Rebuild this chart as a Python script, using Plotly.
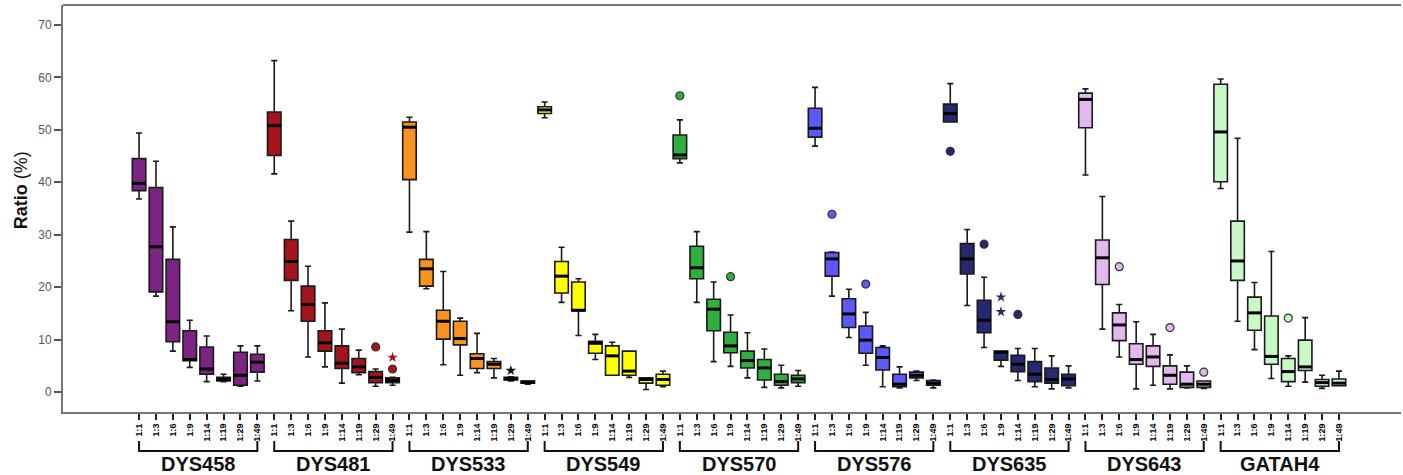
import plotly.graph_objects as go

markers = ["DYS458", "DYS481", "DYS533", "DYS549", "DYS570", "DYS576", "DYS635", "DYS643", "GATAH4"]
dilutions = ["1:1", "1:3", "1:6", "1:9", "1:14", "1:19", "1:29", "1:49"]
colors = ["#7B2484", "#A5141B", "#F7931E", "#FFFF00", "#2DB040", "#5A5AF8", "#252A70", "#E3B8EE", "#C8F8C8"]

lower = [
    [36.8, 18.3, 7.8, 4.7, 2.0, 2.0, 1.1, 2.1],
    [41.6, 15.5, 6.7, 4.8, 1.7, 3.3, 1.1, 1.3],
    [30.5, 19.7, 5.2, 3.2, 3.7, 2.7, 2.1, 1.5],
    [52.3, 17.1, 10.8, 6.2, 3.2, 2.8, 0.5, 1.0],
    [43.7, 17.1, 5.8, 4.9, 2.7, 0.9, 0.8, 1.1],
    [46.9, 18.3, 10.4, 5.1, 1.0, 0.8, 2.2, 0.8],
    [51.5, 16.5, 8.5, 4.9, 2.2, 1.0, 0.6, 0.8],
    [41.4, 12.0, 6.7, 0.6, 1.3, 0.6, 0.8, 0.7],
    [38.8, 13.5, 8.1, 2.6, 1.1, 1.9, 0.7, 1.2],
]
q1 = [
    [38.4, 19.1, 9.6, 6.0, 3.4, 2.1, 1.3, 3.8],
    [45.1, 21.3, 13.5, 7.8, 4.5, 3.7, 1.8, 1.8],
    [40.5, 20.2, 10.1, 9.0, 4.5, 4.5, 2.3, 1.7],
    [53.1, 18.9, 15.5, 7.4, 3.2, 3.2, 1.7, 1.3],
    [44.5, 21.6, 11.7, 7.5, 4.6, 2.3, 1.3, 1.8],
    [48.6, 22.1, 12.3, 7.4, 4.2, 1.0, 2.7, 1.3],
    [51.5, 22.5, 11.3, 6.1, 3.9, 2.0, 1.7, 1.2],
    [50.4, 20.5, 9.8, 5.3, 4.9, 1.5, 0.9, 0.9],
    [40.1, 21.3, 11.8, 5.3, 2.0, 4.1, 1.1, 1.2],
]
median = [
    [39.8, 27.7, 13.4, 6.2, 4.4, 2.4, 3.2, 5.7],
    [50.8, 24.9, 16.7, 9.4, 5.5, 4.8, 2.8, 2.2],
    [50.5, 23.5, 13.5, 10.2, 6.4, 5.3, 2.5, 1.9],
    [53.8, 22.1, 15.6, 9.3, 6.9, 4.0, 2.4, 2.4],
    [45.2, 23.7, 15.8, 8.8, 6.0, 4.6, 2.0, 2.5],
    [50.3, 25.4, 14.9, 9.9, 6.6, 1.5, 3.2, 1.7],
    [53.1, 25.4, 13.7, 7.6, 5.3, 3.4, 2.4, 2.5],
    [55.8, 25.6, 12.8, 6.2, 6.7, 3.2, 1.5, 1.5],
    [49.6, 25.0, 15.1, 6.8, 3.9, 4.8, 1.8, 1.7],
]
q3 = [
    [44.5, 39.0, 25.3, 11.7, 8.6, 2.8, 7.6, 7.2],
    [53.4, 29.1, 20.2, 11.7, 8.8, 6.4, 3.9, 2.7],
    [51.5, 25.3, 15.6, 13.5, 7.3, 5.8, 2.8, 2.1],
    [54.4, 24.9, 21.0, 9.7, 8.8, 7.8, 2.7, 3.4],
    [49.0, 27.8, 17.7, 11.4, 7.8, 6.2, 3.4, 3.2],
    [54.1, 26.6, 17.8, 12.6, 8.5, 3.4, 3.8, 2.2],
    [54.9, 28.3, 17.5, 7.8, 7.0, 5.8, 4.6, 3.4],
    [57.0, 29.0, 15.1, 9.2, 8.8, 5.0, 3.8, 2.1],
    [58.7, 32.6, 18.1, 14.5, 6.4, 9.9, 2.4, 2.5],
]
upper = [
    [49.4, 44.0, 31.5, 13.7, 10.7, 3.4, 8.8, 8.8],
    [63.2, 32.6, 24.0, 17.0, 12.0, 8.0, 4.4, 2.8],
    [52.4, 30.6, 23.0, 14.1, 11.2, 6.4, 2.9, 2.1],
    [55.3, 27.6, 21.6, 11.0, 9.5, 7.8, 2.7, 4.0],
    [51.9, 30.6, 21.0, 14.7, 11.3, 8.2, 5.1, 4.1],
    [58.1, 26.7, 19.6, 15.2, 8.8, 4.8, 4.0, 2.3],
    [58.8, 31.0, 21.9, 7.8, 8.3, 8.3, 6.9, 5.0],
    [57.8, 37.3, 16.7, 13.4, 11.0, 7.1, 5.0, 2.1],
    [59.7, 48.4, 20.9, 26.8, 6.9, 14.2, 3.2, 4.0],
]

# outliers: (marker index, dilution index, value, kind)
outlier_marker = [1, 1, 1, 2, 4, 4, 5, 5, 6, 6, 6, 6, 6, 7, 7, 7, 8]
outlier_dilution = [6, 7, 7, 6, 0, 3, 1, 3, 0, 2, 3, 3, 4, 2, 5, 7, 4]
outlier_value = [8.6, 4.4, 6.6, 4.1, 56.5, 22.0, 33.9, 20.6, 45.9, 28.2, 18.1, 15.3, 14.8, 23.9, 12.3, 3.8, 14.1]
outlier_kind = ["o", "o", "*", "*", "o", "o", "o", "o", "o", "o", "*", "*", "o", "o", "o", "o", "o"]

font = "Arial, Liberation Sans, sans-serif"
n_d = len(dilutions)
positions = list(range(len(markers) * n_d))
ticktext = dilutions * len(markers)

fig = go.Figure()
for g, name in enumerate(markers):
    xs = [g * n_d + i for i in range(n_d)]
    fig.add_trace(go.Box(
        x=xs, q1=q1[g], median=median[g], q3=q3[g],
        lowerfence=lower[g], upperfence=upper[g],
        fillcolor=colors[g], line=dict(color="#1a1a1a", width=1.6),
        width=0.8, whiskerwidth=0.45, boxpoints=False, showlegend=False,
        hoverinfo="skip",
    ))
    mx, my = [], []
    for i in range(n_d):
        mx += [xs[i] - 0.4, xs[i] + 0.4, None]
        my += [median[g][i], median[g][i], None]
    fig.add_trace(go.Scatter(x=mx, y=my, mode="lines", line=dict(color="#000", width=3),
                             showlegend=False, hoverinfo="skip"))

for m, d, v, k in zip(outlier_marker, outlier_dilution, outlier_value, outlier_kind):
    x = m * n_d + d
    if k == "o":
        fig.add_trace(go.Scatter(x=[x], y=[v], mode="markers", showlegend=False,
                                 marker=dict(symbol="circle", size=8, color=colors[m],
                                             line=dict(color="#333", width=1.2))))
    else:
        starcol = "#111" if m == 2 else colors[m]
        fig.add_trace(go.Scatter(x=[x], y=[v], mode="markers", showlegend=False,
                                 marker=dict(symbol="star", size=8, color=starcol,
                                             line=dict(width=0))))

xmin, xmax = -4.5, 74.67
shapes = [dict(type="line", xref="paper", yref="paper", x0=0, x1=1, y0=1, y1=1,
               line=dict(color="#777", width=2))]
annotations = []
for g, name in enumerate(markers):
    a, b = g * n_d, g * n_d + n_d - 1
    shapes.append(dict(type="path", xref="x", yref="paper",
                       path=f"M {a},-0.071 L {a},-0.096 L {b},-0.096 L {b},-0.071",
                       line=dict(color="#111", width=2)))
    annotations.append(dict(x=(a + b) / 2, y=-0.128, xref="x", yref="paper", text=f"<b>{name}</b>",
                            showarrow=False, yanchor="middle", xanchor="center",
                            font=dict(family=font, size=20, color="#111")))
annotations.append(dict(x=0, y=0.545, xref="paper", yref="paper", xshift=-42, textangle=-90,
                        xanchor="center", yanchor="middle",
                        text="<b>Ratio</b> (%)", showarrow=False,
                        font=dict(family=font, size=18, color="#111")))

fig.update_layout(
    width=1403, height=475, margin=dict(l=63, r=2, t=5, b=63),
    plot_bgcolor="white", paper_bgcolor="white",
    shapes=shapes, annotations=annotations,
    xaxis=dict(range=[xmin, xmax], tickmode="array", tickvals=positions, ticktext=ticktext,
               tickangle=-90, ticks="outside", ticklen=6, tickwidth=1.5, tickcolor="#222",
               tickfont=dict(family=font, size=9, color="#000", weight="bold"),
               showline=True, linecolor="#777", linewidth=2, showgrid=False, zeroline=False),
    yaxis=dict(range=[-3.8, 73.8], tickvals=[0, 10, 20, 30, 40, 50, 60, 70],
               ticks="outside", ticklen=7, tickwidth=1.5, tickcolor="#555",
               tickfont=dict(family=font, size=12, color="#555"),
               showline=True, linecolor="#777", linewidth=2, showgrid=False, zeroline=False),
)

fig.write_html("out.html", config={"displayModeBar": False},
               post_script="document.body.style.margin='0';document.body.style.overflow='hidden';")
